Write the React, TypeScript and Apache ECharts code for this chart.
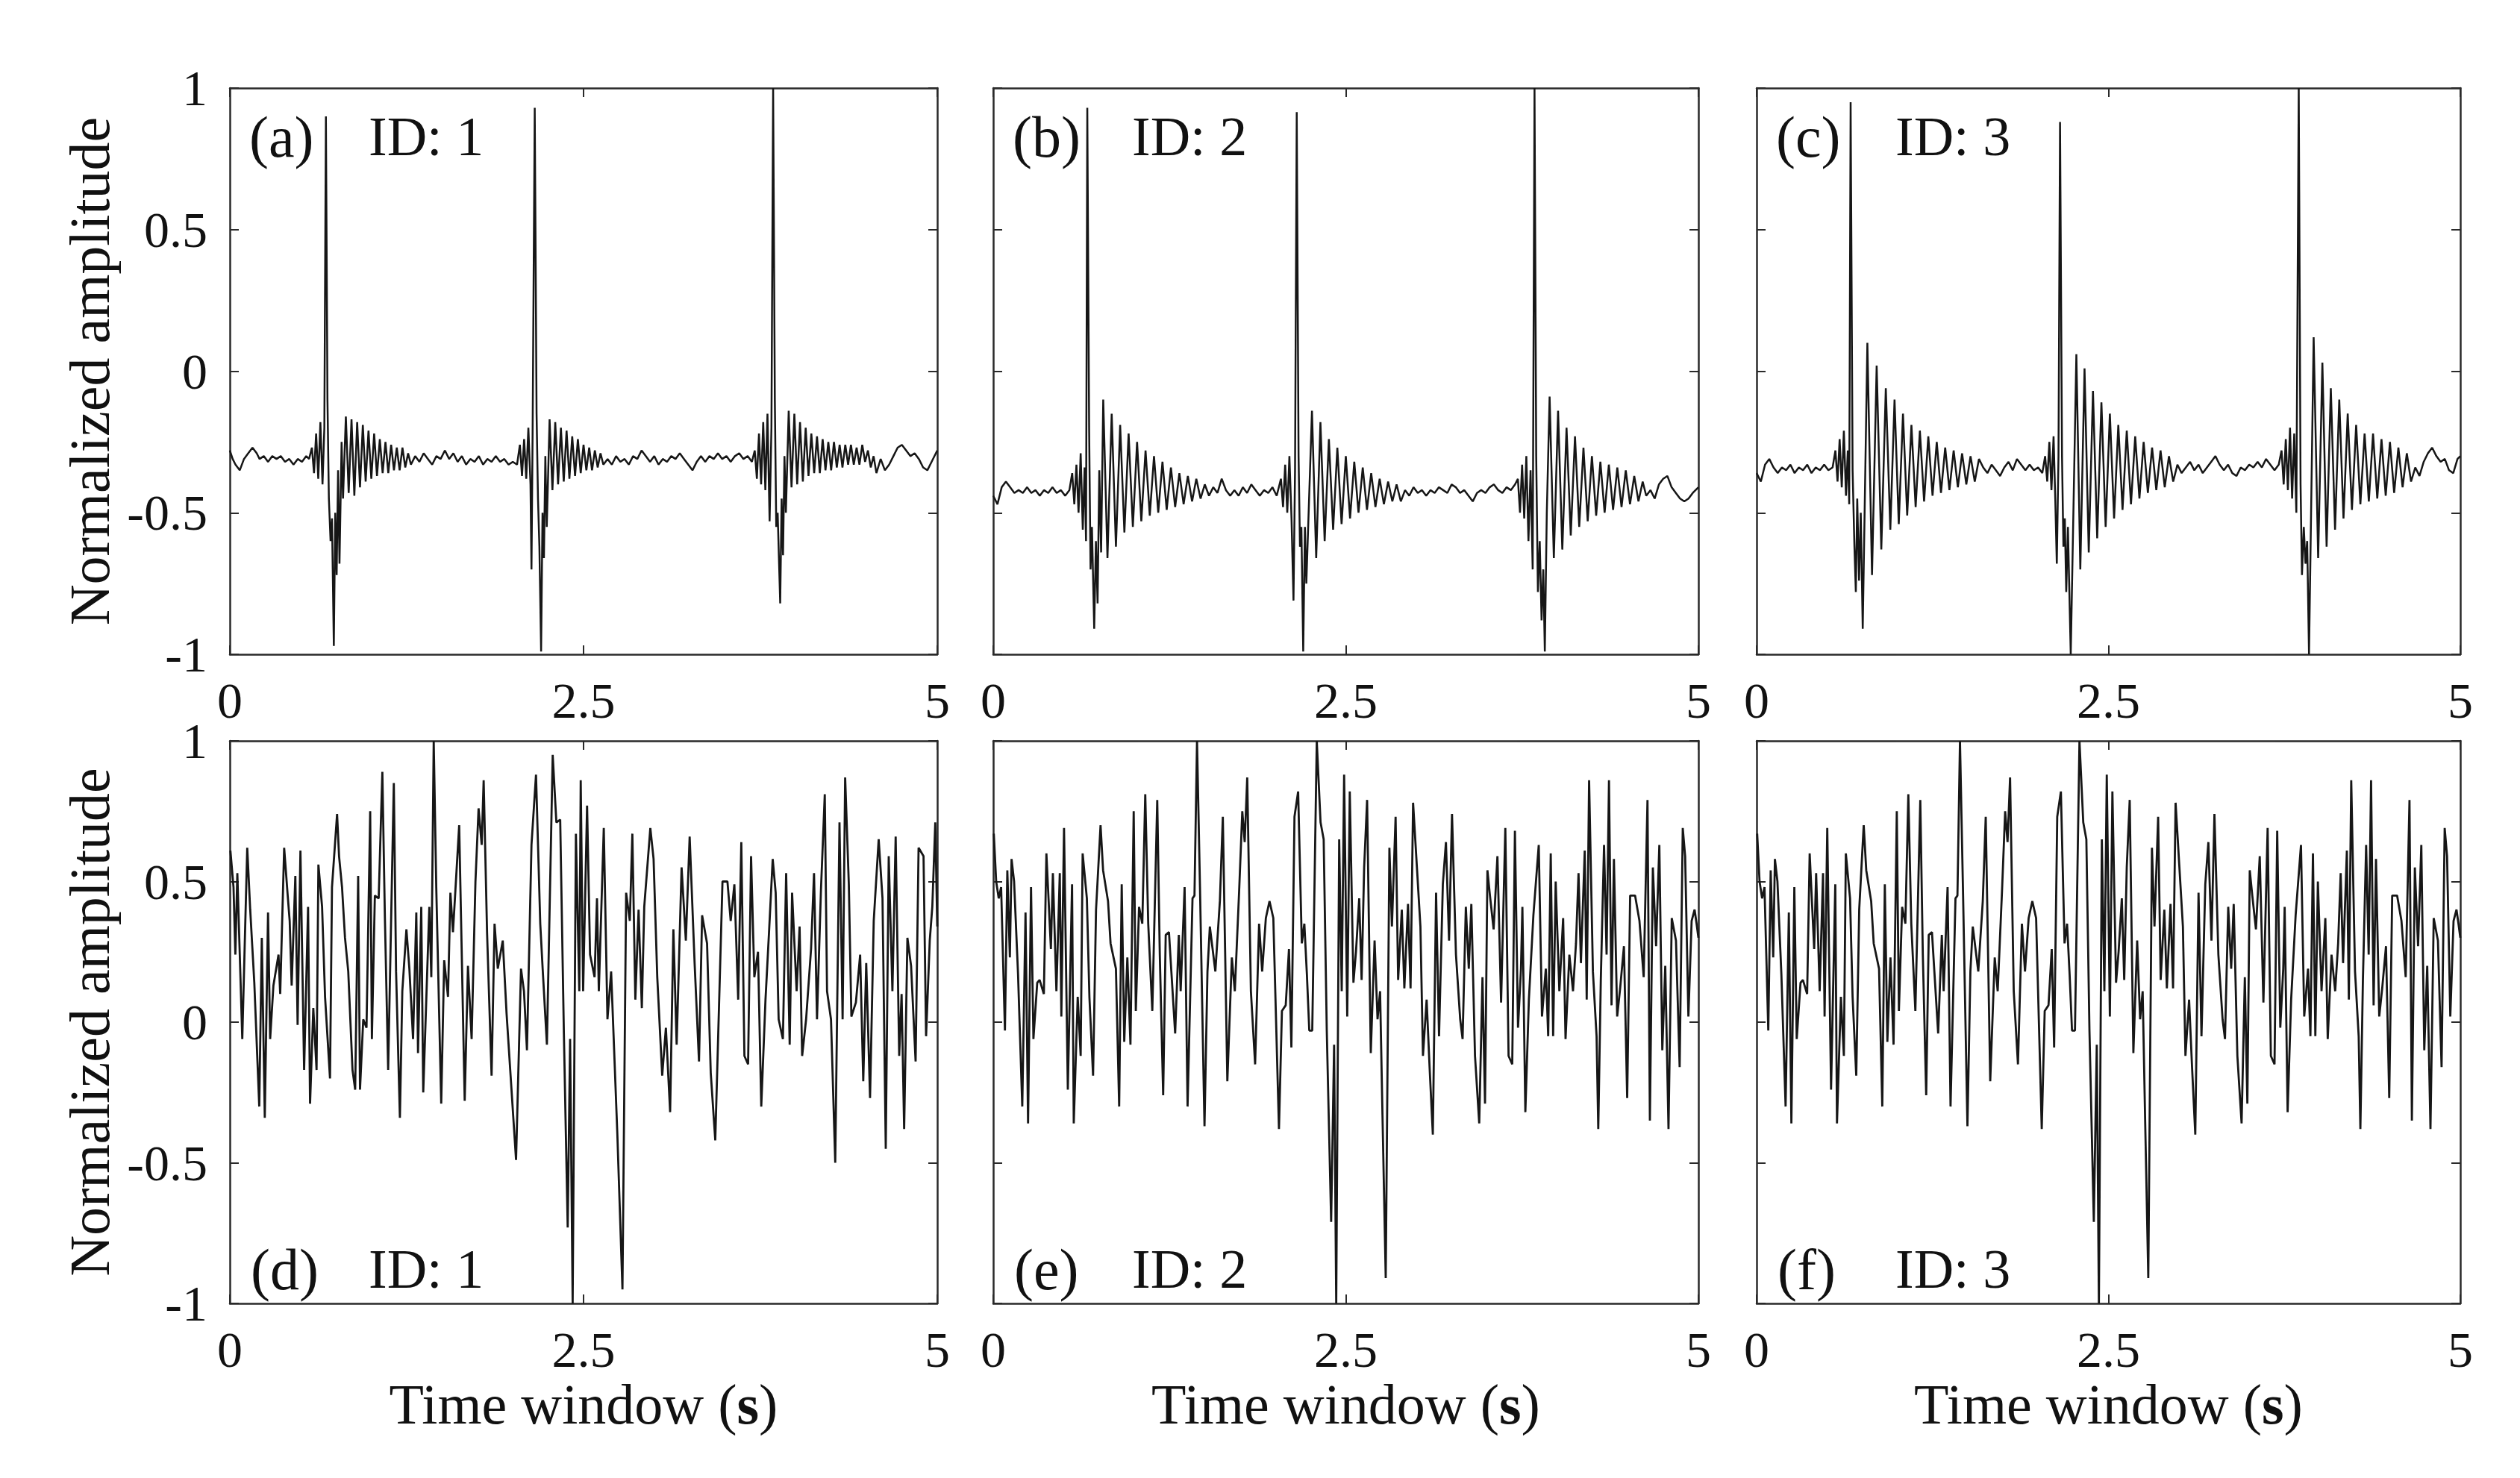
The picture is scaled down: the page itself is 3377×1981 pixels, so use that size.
import React, { useEffect, useRef } from 'react';
import * as echarts from 'echarts';

const FONT = '"Liberation Serif", "Times New Roman", Times, serif';

const xTicks = [0, 2.5, 5];
const yTicks = [-1, -0.5, 0, 0.5, 1];
const panelLetters = ['(a)', '(b)', '(c)', '(d)', '(e)', '(f)'];
const panelIds = ['ID: 1', 'ID: 2', 'ID: 3', 'ID: 1', 'ID: 2', 'ID: 3'];
const yName = 'Normalized amplitude';
const xName = 'Time window ({b|s})';

// (a) ID 1 — impulsive signal, weak ringing
const signalA = [
  [0, -0.28], [0.02, -0.31], [0.04, -0.33], [0.07, -0.35], [0.1, -0.31], [0.13, -0.29], [0.16, -0.27], [0.19, -0.29], [0.21, -0.31], [0.24, -0.3], [0.27, -0.32], [0.3, -0.3], [0.33, -0.31], [0.36, -0.3], [0.39, -0.32], [0.42, -0.31], [0.45, -0.33], [0.48, -0.31], [0.51, -0.32], [0.54, -0.3], [0.56, -0.31],
  [0.58, -0.27], [0.595, -0.36], [0.61, -0.22], [0.625, -0.38], [0.64, -0.18], [0.655, -0.4], [0.668, -0.2], [0.679, 0.9], [0.69, -0.1], [0.7, -0.45], [0.712, -0.6], [0.722, -0.52], [0.735, -0.97], [0.745, -0.5], [0.755, -0.72], [0.765, -0.35], [0.775, -0.68], [0.79, -0.25], [0.8, -0.45],
  [0.82, -0.16], [0.84, -0.43], [0.86, -0.17], [0.88, -0.44], [0.9, -0.18], [0.92, -0.41], [0.94, -0.19], [0.96, -0.39], [0.98, -0.21], [1.0, -0.38], [1.02, -0.22], [1.04, -0.37], [1.06, -0.24], [1.08, -0.36], [1.1, -0.25], [1.12, -0.36], [1.14, -0.26], [1.16, -0.35], [1.18, -0.27], [1.2, -0.35], [1.22, -0.27], [1.24, -0.34], [1.26, -0.29], [1.28, -0.33],
  [1.31, -0.3], [1.34, -0.32], [1.37, -0.29], [1.4, -0.31], [1.43, -0.33], [1.46, -0.3], [1.49, -0.31], [1.52, -0.28], [1.55, -0.31], [1.58, -0.29], [1.61, -0.32], [1.64, -0.3], [1.67, -0.33], [1.7, -0.31], [1.73, -0.32], [1.76, -0.3], [1.79, -0.33], [1.82, -0.31], [1.85, -0.32], [1.88, -0.3], [1.91, -0.32], [1.94, -0.31], [1.97, -0.33], [2.0, -0.32], [2.03, -0.33],
  [2.05, -0.26], [2.065, -0.37], [2.08, -0.24], [2.095, -0.38], [2.11, -0.2], [2.125, -0.4], [2.132, -0.7], [2.14, -0.22], [2.155, 0.93], [2.168, -0.15], [2.178, -0.45], [2.188, -0.62], [2.2, -0.99], [2.21, -0.5], [2.22, -0.66], [2.23, -0.3], [2.24, -0.55],
  [2.26, -0.17], [2.28, -0.42], [2.3, -0.18], [2.32, -0.4], [2.34, -0.2], [2.36, -0.39], [2.38, -0.21], [2.4, -0.38], [2.42, -0.23], [2.44, -0.37], [2.46, -0.24], [2.48, -0.36], [2.5, -0.26], [2.52, -0.35], [2.54, -0.27], [2.56, -0.35], [2.58, -0.28], [2.6, -0.34], [2.62, -0.29], [2.64, -0.33],
  [2.67, -0.31], [2.7, -0.33], [2.73, -0.3], [2.76, -0.32], [2.79, -0.31], [2.82, -0.33], [2.85, -0.3], [2.88, -0.31], [2.91, -0.28], [2.94, -0.3], [2.97, -0.32], [3.0, -0.3], [3.03, -0.33], [3.06, -0.31], [3.09, -0.32], [3.12, -0.3], [3.15, -0.31], [3.18, -0.29], [3.21, -0.31], [3.24, -0.33], [3.27, -0.35], [3.3, -0.32], [3.33, -0.3], [3.36, -0.32], [3.39, -0.3], [3.42, -0.31], [3.45, -0.29], [3.48, -0.31], [3.51, -0.3], [3.54, -0.32], [3.57, -0.3], [3.6, -0.29], [3.63, -0.31], [3.66, -0.3], [3.69, -0.32],
  [3.71, -0.28], [3.725, -0.38], [3.74, -0.22], [3.755, -0.4], [3.77, -0.18], [3.785, -0.42], [3.8, -0.15], [3.815, -0.53], [3.828, -0.2], [3.84, 1.0], [3.852, -0.1], [3.862, -0.55], [3.872, -0.5], [3.882, -0.68], [3.89, -0.82], [3.9, -0.45], [3.91, -0.65], [3.92, -0.3], [3.93, -0.5],
  [3.95, -0.14], [3.97, -0.41], [3.99, -0.15], [4.01, -0.4], [4.03, -0.18], [4.05, -0.39], [4.07, -0.2], [4.09, -0.37], [4.11, -0.22], [4.13, -0.36], [4.15, -0.23], [4.17, -0.36], [4.19, -0.24], [4.21, -0.35], [4.23, -0.25], [4.25, -0.35], [4.27, -0.25], [4.29, -0.34], [4.31, -0.26], [4.33, -0.34], [4.35, -0.26], [4.37, -0.33], [4.39, -0.26], [4.41, -0.33], [4.43, -0.27], [4.45, -0.33], [4.47, -0.26], [4.49, -0.32], [4.51, -0.28], [4.53, -0.34], [4.55, -0.3], [4.57, -0.36],
  [4.6, -0.31], [4.63, -0.35], [4.66, -0.33], [4.69, -0.3], [4.72, -0.27], [4.75, -0.26], [4.78, -0.28], [4.81, -0.3], [4.84, -0.29], [4.87, -0.31], [4.9, -0.34], [4.93, -0.35], [4.96, -0.32], [5.0, -0.28],
];

// (b) ID 2 — impulsive signal, medium ringing
const signalB = [
  [0, -0.44], [0.03, -0.47], [0.06, -0.41], [0.09, -0.39], [0.12, -0.41], [0.15, -0.43], [0.18, -0.42], [0.21, -0.43], [0.24, -0.41], [0.27, -0.43], [0.3, -0.42], [0.33, -0.44], [0.36, -0.42], [0.39, -0.43], [0.42, -0.41], [0.45, -0.43], [0.48, -0.42], [0.51, -0.44], [0.54, -0.42],
  [0.56, -0.36], [0.575, -0.47], [0.59, -0.33], [0.605, -0.5], [0.62, -0.29], [0.635, -0.56], [0.648, -0.34], [0.658, -0.6], [0.667, 0.93], [0.68, -0.2], [0.69, -0.7], [0.7, -0.55], [0.716, -0.91], [0.728, -0.6], [0.74, -0.82], [0.752, -0.35], [0.765, -0.64],
  [0.78, -0.1], [0.81, -0.66], [0.84, -0.15], [0.87, -0.62], [0.9, -0.19], [0.93, -0.57], [0.96, -0.22], [0.99, -0.55], [1.02, -0.25], [1.05, -0.53], [1.08, -0.28], [1.11, -0.51], [1.14, -0.3], [1.17, -0.5], [1.2, -0.32], [1.23, -0.49], [1.26, -0.34], [1.29, -0.48], [1.32, -0.36], [1.35, -0.47], [1.38, -0.37], [1.41, -0.46], [1.44, -0.38], [1.47, -0.45], [1.5, -0.4],
  [1.53, -0.44], [1.56, -0.41], [1.59, -0.43], [1.62, -0.38], [1.65, -0.42], [1.68, -0.44], [1.71, -0.42], [1.74, -0.44], [1.77, -0.41], [1.8, -0.43], [1.83, -0.4], [1.86, -0.42], [1.89, -0.44], [1.92, -0.42], [1.95, -0.43], [1.98, -0.41], [2.01, -0.44],
  [2.04, -0.38], [2.055, -0.48], [2.07, -0.33], [2.085, -0.5], [2.1, -0.3], [2.115, -0.52], [2.129, -0.81], [2.14, -0.35], [2.152, 0.915], [2.165, -0.3], [2.175, -0.62], [2.185, -0.55], [2.198, -0.99], [2.21, -0.55], [2.22, -0.75],
  [2.26, -0.14], [2.29, -0.66], [2.32, -0.18], [2.35, -0.6], [2.38, -0.24], [2.41, -0.56], [2.44, -0.27], [2.47, -0.54], [2.5, -0.3], [2.53, -0.52], [2.56, -0.32], [2.59, -0.5], [2.62, -0.34], [2.65, -0.49], [2.68, -0.36], [2.71, -0.48], [2.74, -0.38], [2.77, -0.47], [2.8, -0.39], [2.83, -0.46], [2.86, -0.4], [2.89, -0.46],
  [2.92, -0.42], [2.95, -0.44], [2.98, -0.41], [3.01, -0.43], [3.04, -0.42], [3.07, -0.44], [3.1, -0.42], [3.13, -0.43], [3.16, -0.41], [3.19, -0.42], [3.22, -0.43], [3.25, -0.4], [3.28, -0.41], [3.31, -0.43], [3.34, -0.42], [3.37, -0.44], [3.4, -0.46], [3.43, -0.43], [3.46, -0.42], [3.49, -0.43], [3.52, -0.41], [3.55, -0.4], [3.58, -0.42], [3.61, -0.43], [3.64, -0.41], [3.67, -0.42], [3.7, -0.4],
  [3.72, -0.38], [3.735, -0.5], [3.75, -0.33], [3.765, -0.52], [3.78, -0.3], [3.795, -0.6], [3.81, -0.35], [3.825, -0.7], [3.838, 1.0], [3.85, -0.3], [3.862, -0.78], [3.875, -0.6], [3.888, -0.88], [3.9, -0.7], [3.911, -0.99], [3.925, -0.5],
  [3.945, -0.09], [3.975, -0.66], [4.005, -0.14], [4.035, -0.63], [4.065, -0.2], [4.095, -0.58], [4.125, -0.23], [4.155, -0.55], [4.185, -0.27], [4.215, -0.53], [4.245, -0.3], [4.275, -0.51], [4.305, -0.32], [4.335, -0.5], [4.365, -0.33], [4.395, -0.49], [4.425, -0.34], [4.455, -0.48], [4.485, -0.35], [4.515, -0.47], [4.545, -0.37], [4.575, -0.46], [4.605, -0.39],
  [4.63, -0.44], [4.66, -0.42], [4.69, -0.45], [4.72, -0.4], [4.75, -0.38], [4.78, -0.37], [4.81, -0.41], [4.84, -0.43], [4.87, -0.45], [4.9, -0.46], [4.93, -0.45], [4.96, -0.43], [5.0, -0.41],
];

// (c) ID 3 — impulsive signal, strong ringing
const signalC = [
  [0, -0.36], [0.03, -0.39], [0.06, -0.33], [0.09, -0.31], [0.12, -0.34], [0.15, -0.36], [0.18, -0.34], [0.21, -0.35], [0.24, -0.33], [0.27, -0.36], [0.3, -0.34], [0.33, -0.35], [0.36, -0.33], [0.39, -0.36], [0.42, -0.34], [0.45, -0.35], [0.48, -0.33], [0.51, -0.35], [0.54, -0.34],
  [0.56, -0.28], [0.575, -0.39], [0.59, -0.24], [0.605, -0.41], [0.62, -0.21], [0.635, -0.44], [0.648, -0.28], [0.658, -0.47], [0.668, 0.95], [0.682, -0.35], [0.695, -0.62], [0.705, -0.78], [0.715, -0.45], [0.728, -0.74], [0.74, -0.5], [0.754, -0.91],
  [0.787, 0.1], [0.82, -0.72], [0.853, 0.02], [0.886, -0.63], [0.918, -0.06], [0.95, -0.56], [0.98, -0.1], [1.01, -0.54], [1.04, -0.15], [1.07, -0.51], [1.1, -0.19], [1.13, -0.48], [1.16, -0.21], [1.19, -0.46], [1.22, -0.23], [1.25, -0.44], [1.28, -0.25], [1.31, -0.43], [1.34, -0.27], [1.37, -0.42], [1.4, -0.28], [1.43, -0.41], [1.46, -0.29], [1.49, -0.4], [1.52, -0.3], [1.55, -0.39],
  [1.58, -0.31], [1.61, -0.34], [1.64, -0.36], [1.67, -0.33], [1.7, -0.35], [1.73, -0.37], [1.76, -0.34], [1.79, -0.32], [1.82, -0.35], [1.85, -0.31], [1.88, -0.33], [1.91, -0.35], [1.94, -0.33], [1.97, -0.35], [2.0, -0.34], [2.03, -0.36],
  [2.05, -0.3], [2.065, -0.39], [2.08, -0.25], [2.095, -0.42], [2.11, -0.23], [2.122, -0.45], [2.133, -0.68], [2.145, -0.3], [2.156, 0.88], [2.17, -0.3], [2.18, -0.62], [2.19, -0.52], [2.2, -0.78], [2.212, -0.55], [2.232, -1.0],
  [2.272, 0.06], [2.3, -0.7], [2.33, 0.01], [2.36, -0.64], [2.39, -0.07], [2.42, -0.59], [2.45, -0.11], [2.48, -0.55], [2.51, -0.15], [2.54, -0.52], [2.57, -0.19], [2.6, -0.49], [2.63, -0.21], [2.66, -0.47], [2.69, -0.23], [2.72, -0.45], [2.75, -0.25], [2.78, -0.43], [2.81, -0.27], [2.84, -0.42], [2.87, -0.28], [2.9, -0.41], [2.93, -0.3], [2.96, -0.39],
  [2.99, -0.33], [3.02, -0.36], [3.05, -0.34], [3.08, -0.32], [3.11, -0.35], [3.14, -0.33], [3.17, -0.36], [3.2, -0.34], [3.23, -0.32], [3.26, -0.3], [3.29, -0.33], [3.32, -0.35], [3.35, -0.33], [3.38, -0.36], [3.41, -0.37], [3.44, -0.34], [3.47, -0.35], [3.5, -0.33], [3.53, -0.34], [3.56, -0.32], [3.59, -0.34], [3.62, -0.31], [3.65, -0.33], [3.68, -0.35], [3.71, -0.33],
  [3.73, -0.28], [3.745, -0.4], [3.76, -0.24], [3.775, -0.42], [3.79, -0.2], [3.805, -0.45], [3.82, -0.22], [3.835, -0.5], [3.852, 1.0], [3.865, -0.4], [3.875, -0.72], [3.888, -0.55], [3.9, -0.68], [3.912, -0.6], [3.925, -1.0],
  [3.958, 0.12], [3.99, -0.66], [4.02, 0.03], [4.05, -0.62], [4.08, -0.06], [4.11, -0.56], [4.14, -0.1], [4.17, -0.52], [4.2, -0.15], [4.23, -0.49], [4.26, -0.19], [4.29, -0.47], [4.32, -0.22], [4.35, -0.46], [4.38, -0.22], [4.41, -0.45], [4.44, -0.24], [4.47, -0.44], [4.5, -0.25], [4.53, -0.43], [4.56, -0.27], [4.59, -0.41], [4.62, -0.29], [4.65, -0.39],
  [4.68, -0.34], [4.71, -0.37], [4.74, -0.32], [4.77, -0.29], [4.8, -0.27], [4.83, -0.3], [4.86, -0.32], [4.89, -0.31], [4.92, -0.35], [4.95, -0.36], [4.98, -0.31], [5.0, -0.3],
];

// (d) ID 1 — noisy signal
const signalD = [
  [0.004, 0.61], [0.026, 0.48], [0.039, 0.24], [0.053, 0.53], [0.088, -0.06], [0.123, 0.62], [0.144, 0.4], [0.173, 0.14], [0.208, -0.3], [0.226, 0.3], [0.247, -0.34], [0.27, 0.39], [0.285, -0.06], [0.308, 0.13], [0.344, 0.24], [0.356, 0.1], [0.384, 0.62], [0.409, 0.45], [0.423, 0.36], [0.437, 0.13], [0.463, 0.52], [0.479, -0.01], [0.499, 0.61], [0.525, -0.17], [0.553, 0.41], [0.567, -0.29], [0.59, 0.05], [0.613, -0.17], [0.626, 0.56], [0.652, 0.41], [0.673, 0.09], [0.708, -0.2], [0.722, 0.48], [0.758, 0.74], [0.772, 0.59], [0.793, 0.48], [0.814, 0.3], [0.837, 0.18], [0.867, -0.17], [0.886, -0.24], [0.907, 0.52], [0.92, -0.24], [0.943, 0.01], [0.966, -0.02], [0.992, 0.75], [1.004, -0.06], [1.025, 0.45], [1.052, 0.44], [1.078, 0.89], [1.096, 0.37], [1.119, -0.17], [1.159, 0.85], [1.175, 0.18], [1.202, -0.34], [1.219, 0.11], [1.248, 0.33], [1.269, 0.19], [1.295, -0.06], [1.318, 0.39], [1.33, -0.11], [1.353, 0.41], [1.367, -0.25], [1.41, 0.41], [1.424, 0.16], [1.441, 1.0], [1.459, 0.48], [1.494, -0.29], [1.515, 0.22], [1.542, 0.09], [1.559, 0.46], [1.577, 0.32], [1.621, 0.7], [1.66, -0.28], [1.683, 0.2], [1.709, -0.06], [1.736, 0.5], [1.758, 0.76], [1.78, 0.63], [1.794, 0.86], [1.818, 0.32], [1.85, -0.19], [1.871, 0.35], [1.894, 0.19], [1.929, 0.29], [1.956, 0.03], [2.023, -0.49], [2.058, 0.19], [2.079, 0.11], [2.1, -0.1], [2.132, 0.63], [2.164, 0.88], [2.194, 0.35], [2.211, 0.19], [2.241, -0.08], [2.282, 0.95], [2.308, 0.71], [2.335, 0.72], [2.361, -0.04], [2.388, -0.73], [2.405, -0.06], [2.423, -1.0], [2.446, 0.67], [2.47, 0.11],
  [2.48, 0.86], [2.497, 0.11], [2.525, 0.77], [2.546, 0.24], [2.578, 0.16], [2.595, 0.44], [2.608, 0.11], [2.643, 0.69], [2.669, 0.01], [2.695, 0.18], [2.739, -0.4], [2.775, -0.95], [2.801, 0.46], [2.827, 0.36], [2.845, 0.67], [2.866, 0.08], [2.889, 0.4], [2.912, 0.05], [2.929, 0.41], [2.972, 0.69], [2.995, 0.58], [3.021, 0.16], [3.056, -0.19], [3.082, -0.02], [3.112, -0.32], [3.135, 0.33], [3.158, -0.08], [3.193, 0.55], [3.223, 0.29], [3.25, 0.66], [3.285, 0.21], [3.316, -0.14], [3.338, 0.38], [3.373, 0.28], [3.399, -0.18], [3.431, -0.42], [3.461, 0.12], [3.482, 0.5], [3.517, 0.5], [3.54, 0.36], [3.566, 0.49], [3.593, 0.08], [3.615, 0.64], [3.637, -0.12], [3.663, -0.15], [3.684, 0.59], [3.707, 0.16], [3.733, 0.25], [3.756, -0.3], [3.786, 0.08], [3.812, 0.33], [3.837, 0.58], [3.858, 0.46], [3.879, 0.01], [3.909, -0.06], [3.932, 0.53], [3.957, -0.08], [3.974, 0.46], [4.006, 0.11], [4.027, 0.34], [4.045, -0.12], [4.073, 0.01], [4.108, 0.26], [4.129, 0.53], [4.15, 0.01], [4.178, 0.47], [4.205, 0.81], [4.221, 0.11], [4.249, 0.01], [4.279, -0.5], [4.309, 0.71], [4.331, 0.01], [4.349, 0.87], [4.375, 0.49], [4.393, 0.02], [4.425, 0.07], [4.455, 0.24], [4.477, -0.21], [4.498, 0.21], [4.525, -0.27], [4.551, 0.36], [4.586, 0.65], [4.613, 0.44], [4.636, -0.45], [4.657, 0.59], [4.683, 0.11], [4.706, 0.66], [4.731, -0.12], [4.748, 0.1], [4.766, -0.38], [4.789, 0.3], [4.815, 0.2], [4.847, -0.14], [4.868, 0.62], [4.903, 0.59], [4.921, -0.05], [4.947, 0.29], [4.965, 0.41], [4.986, 0.71], [5.0, 0.34],
];

// (e) ID 2 — noisy signal
const signalE = [
  [0.004, 0.67], [0.021, 0.5], [0.039, 0.44], [0.056, 0.48], [0.083, -0.03], [0.1, 0.54], [0.118, 0.23], [0.13, 0.58], [0.148, 0.5], [0.176, 0.17], [0.206, -0.3], [0.229, 0.39], [0.247, -0.36], [0.268, 0.48], [0.285, -0.06], [0.312, 0.14], [0.329, 0.15], [0.359, 0.1], [0.377, 0.6], [0.409, 0.26], [0.423, 0.53], [0.448, 0.11], [0.472, 0.53], [0.483, 0.02], [0.502, 0.69], [0.529, -0.24], [0.559, 0.49], [0.571, -0.36], [0.599, 0.09], [0.62, -0.12], [0.634, 0.6], [0.664, 0.44], [0.682, 0.09], [0.708, -0.19], [0.729, 0.4], [0.761, 0.7], [0.779, 0.54], [0.814, 0.43], [0.832, 0.28], [0.87, 0.19], [0.893, -0.3], [0.911, 0.49], [0.929, -0.07], [0.951, 0.23], [0.973, -0.08], [0.996, 0.75], [1.011, 0.04], [1.034, 0.41], [1.057, 0.35], [1.078, 0.81], [1.099, 0.35], [1.128, 0.04], [1.163, 0.79], [1.181, 0.24], [1.205, -0.26], [1.223, 0.31], [1.246, 0.32], [1.263, 0.18], [1.29, -0.04], [1.316, 0.31], [1.329, 0.11], [1.357, 0.48], [1.378, -0.3], [1.413, 0.44], [1.427, 0.45], [1.445, 1.0], [1.466, 0.48], [1.498, -0.37], [1.519, 0.18], [1.536, 0.34], [1.575, 0.18], [1.607, 0.43], [1.628, 0.73], [1.66, -0.21], [1.692, 0.23], [1.713, 0.11], [1.744, 0.47], [1.766, 0.75], [1.783, 0.64], [1.801, 0.87], [1.827, 0.11], [1.857, -0.15], [1.885, 0.35], [1.907, 0.18], [1.933, 0.37], [1.959, 0.43], [1.986, 0.37], [2.026, -0.38], [2.047, 0.04], [2.074, 0.06], [2.097, 0.26], [2.114, -0.09], [2.136, 0.73], [2.162, 0.82], [2.188, 0.28], [2.206, 0.35], [2.224, 0.17], [2.241, -0.03], [2.262, -0.03], [2.294, 1.0], [2.321, 0.71], [2.343, 0.65], [2.365, -0.03], [2.396, -0.71], [2.417, -0.08], [2.432, -1.0], [2.453, 0.65], [2.471, 0.11], [2.488, 0.88],
  [2.51, 0.02], [2.528, 0.82], [2.554, 0.14], [2.572, 0.25], [2.595, 0.44], [2.612, 0.15], [2.63, 0.55], [2.651, 0.79], [2.677, -0.11], [2.704, 0.29], [2.725, 0.01], [2.743, 0.11], [2.76, -0.33], [2.783, -0.91], [2.809, 0.62], [2.827, 0.34], [2.853, 0.73], [2.871, 0.15], [2.897, 0.4], [2.915, 0.12], [2.941, 0.42], [2.959, 0.12], [2.977, 0.78], [3.003, 0.56], [3.029, 0.34], [3.047, -0.12], [3.073, 0.08], [3.094, -0.16], [3.117, -0.4], [3.14, 0.46], [3.161, -0.05], [3.188, 0.49], [3.21, 0.64], [3.232, 0.29], [3.253, 0.74], [3.281, 0.24], [3.311, 0.01], [3.328, -0.06], [3.351, 0.41], [3.372, 0.19], [3.39, 0.42], [3.416, -0.12], [3.446, -0.36], [3.469, 0.16], [3.487, -0.29], [3.504, 0.54], [3.522, 0.45], [3.548, 0.33], [3.575, 0.59], [3.601, 0.07], [3.631, 0.69], [3.654, -0.12], [3.68, -0.15], [3.699, 0.68], [3.721, -0.02], [3.742, 0.19], [3.752, 0.41], [3.773, -0.32], [3.798, 0.08], [3.83, 0.38], [3.868, 0.63], [3.891, 0.02], [3.918, 0.19], [3.935, -0.05], [3.953, 0.6], [3.97, -0.05], [3.988, 0.5], [4.014, 0.11], [4.041, 0.37], [4.058, -0.06], [4.085, 0.24], [4.111, 0.11], [4.132, 0.28], [4.15, 0.53], [4.167, 0.21], [4.194, 0.61], [4.208, 0.08], [4.225, 0.86], [4.252, 0.18], [4.278, -0.05], [4.29, -0.38], [4.308, 0.15], [4.331, 0.63], [4.349, 0.24], [4.366, 0.86], [4.384, 0.06], [4.401, 0.58], [4.424, 0.02], [4.445, 0.12], [4.472, 0.27], [4.495, -0.27], [4.516, 0.45], [4.551, 0.45], [4.582, 0.36], [4.612, 0.16], [4.639, 0.79], [4.656, -0.35], [4.677, 0.55], [4.7, 0.27], [4.723, 0.63], [4.744, -0.1], [4.765, 0.2], [4.788, -0.38], [4.811, 0.37], [4.841, 0.29], [4.867, -0.16], [4.889, 0.69], [4.906, 0.59], [4.929, 0.02], [4.952, 0.36], [4.973, 0.4], [4.987, 0.35], [5.0, 0.3],
];

// (f) ID 3 — visually identical to (e) in the reference
const signalF = signalE;

const SIGNALS = [signalA, signalB, signalC, signalD, signalE, signalF];

export default function App() {
  const ref = useRef<HTMLDivElement>(null);

  useEffect(() => {
    document.body.style.margin = '0';
    const chart = echarts.init(ref.current as HTMLDivElement, null, { renderer: 'svg' });

    const colLeft = [308, 1331, 2354];
    const colWidth = [948, 945, 943];
    const rowTop = [118, 993];
    const rowHeight = [759, 754];
    const axisColor = '#2a2a2a';
    const textColor = '#111';

    const grid: any[] = [];
    const xAxis: any[] = [];
    const yAxis: any[] = [];
    const series: any[] = [];
    const graphic: any[] = [];

    SIGNALS.forEach((data, i) => {
      const row = Math.floor(i / 3);
      const col = i % 3;
      grid.push({ left: colLeft[col], top: rowTop[row], width: colWidth[col], height: rowHeight[row], containLabel: false });

      const lineStyle = { color: axisColor, width: 2.5 };
      const xBase = {
        type: 'value', gridIndex: i,
        min: xTicks[0], max: xTicks[xTicks.length - 1], interval: xTicks[1] - xTicks[0],
        splitLine: { show: false },
        axisLine: { show: true, onZero: false, lineStyle },
        axisTick: { show: true, inside: true, length: 12, lineStyle: { color: axisColor, width: 2 } },
      };
      const yBase = {
        type: 'value', gridIndex: i,
        min: yTicks[0], max: yTicks[yTicks.length - 1], interval: yTicks[1] - yTicks[0],
        splitLine: { show: false },
        axisLine: { show: true, onZero: false, lineStyle },
        axisTick: { show: true, inside: true, length: 12, lineStyle: { color: axisColor, width: 2 } },
      };

      xAxis.push({
        ...xBase, position: 'bottom',
        axisLabel: { show: true, fontSize: 68, fontFamily: FONT, color: textColor, margin: 28 },
        name: row === 1 ? xName : '',
        nameLocation: 'middle', nameGap: 92,
        nameTextStyle: {
          fontSize: 76, fontFamily: FONT, color: textColor,
          rich: { b: { fontSize: 76, fontFamily: FONT, fontWeight: 'bold', color: textColor } },
        },
      });
      xAxis.push({ ...xBase, position: 'top', axisLabel: { show: false } });

      yAxis.push({
        ...yBase, position: 'left',
        axisLabel: { show: col === 0, fontSize: 68, fontFamily: FONT, color: textColor, margin: 30 },
        name: col === 0 ? yName : '',
        nameLocation: 'middle', nameGap: 150,
        nameTextStyle: { fontSize: 76, fontFamily: FONT, color: textColor },
      });
      yAxis.push({ ...yBase, position: 'right', axisLabel: { show: false } });

      series.push({
        type: 'line', xAxisIndex: 2 * i, yAxisIndex: 2 * i, data,
        showSymbol: false, symbol: 'none', smooth: false, clip: true,
        lineStyle: { color: '#161616', width: row === 0 ? 2.5 : 2.8 },
      });

      const ly = row === 0 ? rowTop[0] + 65 : rowTop[1] + rowHeight[1] - 46;
      graphic.push({
        type: 'text', x: colLeft[col] + (row === 0 ? 26 : 28), y: ly, z: 10,
        style: { text: panelLetters[i], fontSize: 78, fontFamily: FONT, fill: textColor, verticalAlign: 'middle', textVerticalAlign: 'middle' },
      });
      graphic.push({
        type: 'text', x: colLeft[col] + 186, y: ly, z: 10,
        style: { text: panelIds[i], fontSize: 74, fontFamily: FONT, fill: textColor, verticalAlign: 'middle', textVerticalAlign: 'middle' },
      });
    });

    chart.setOption({
      animation: false,
      backgroundColor: '#ffffff',
      grid, xAxis, yAxis, series, graphic,
    });

    return () => chart.dispose();
  }, []);

  return <div ref={ref} style={{ width: 3377, height: 1981 }} />;
}
